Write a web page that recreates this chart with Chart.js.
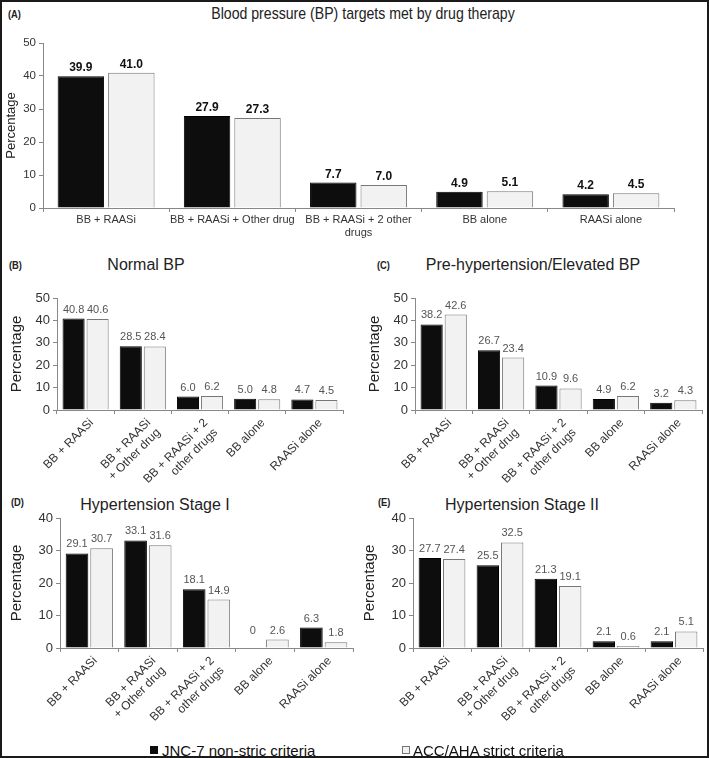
<!DOCTYPE html>
<html>
<head>
<meta charset="utf-8">
<script src="https://cdn.jsdelivr.net/npm/chart.js@4.4.1/dist/chart.umd.min.js"></script>
<style>
  body { margin: 0; background: #fff; }
  #page { position: relative; width: 709px; height: 758px; overflow: hidden; background: #fff; font-family: "Liberation Sans", Arial, sans-serif; }
  #frame { position: absolute; left: 0; top: 0; width: 709px; height: 758px; border: 2px solid #1a1a1a; box-sizing: border-box; pointer-events: none; z-index: 10; }
  canvas { position: absolute; }
  .txt { position: absolute; white-space: nowrap; transform: translate(-50%, -50%); color: #222; }
  .tag { position: absolute; white-space: nowrap; transform: translateY(-50%) scaleX(0.85); transform-origin: left center; font-weight: bold; font-size: 11px; color: #222; }
  .leg { position: absolute; white-space: nowrap; transform: translateY(-50%); font-size: 15px; color: #111; }
  .sq { position: absolute; box-sizing: border-box; }
</style>
</head>
<body>
<div id="page">
  <div class="tag" style="left:8px; top:14px;">(A)</div>
  <div class="txt" style="left:363px; top:14px; font-size:17px; transform: translate(-50%, -50%) scaleX(0.83);">Blood pressure (BP) targets met by drug therapy</div>
  <div class="tag" style="left:9px; top:265px;">(B)</div>
  <div class="txt" style="left:146px; top:265px; font-size:16px;">Normal BP</div>
  <div class="tag" style="left:377px; top:265px;">(C)</div>
  <div class="txt" style="left:533px; top:265px; font-size:16px;">Pre-hypertension/Elevated BP</div>
  <div class="tag" style="left:11px; top:502px;">(D)</div>
  <div class="txt" style="left:155px; top:505px; font-size:16px;">Hypertension Stage I</div>
  <div class="tag" style="left:378px; top:502px;">(E)</div>
  <div class="txt" style="left:522px; top:505px; font-size:16px;">Hypertension Stage II</div>

  <canvas id="chartA" width="680" height="218" style="left:0px; top:30px;"></canvas>
  <canvas id="chartB" width="348" height="209" style="left:0px; top:285px;"></canvas>
  <canvas id="chartC" width="349" height="209" style="left:358px; top:285px;"></canvas>
  <canvas id="chartD" width="358" height="221" style="left:0px; top:505px;"></canvas>
  <canvas id="chartE" width="354" height="221" style="left:353px; top:505px;"></canvas>

  <div class="sq" style="left:150px; top:746px; width:8px; height:8px; background:#0d0d0d;"></div>
  <div class="leg" style="left:162px; top:750px;">JNC-7 non-stric criteria</div>
  <div class="sq" style="left:402px; top:746px; width:8px; height:8px; background:#f2f2f2; border:1px solid #777;"></div>
  <div class="leg" style="left:413px; top:750px;">ACC/AHA strict criteria</div>
  <div id="frame"></div>
</div>
<script>
// categories
var categories = ['BB + RAASi', 'BB + RAASi + Other drug', 'BB + RAASi + 2 other drugs', 'BB alone', 'RAASi alone']
var labelsWide = [['BB + RAASi'], ['BB + RAASi + Other drug'], ['BB + RAASi + 2 other', 'drugs'], ['BB alone'], ['RAASi alone']]
var labelsTilted = [['BB + RAASi'], ['BB + RAASi', '+ Other drug'], ['BB + RAASi + 2', 'other drugs'], ['BB alone'], ['RAASi alone']]
var seriesNames = ['JNC-7 non-stric criteria', 'ACC/AHA strict criteria']

// (A) all patients
var allJnc = [39.9, 27.9, 7.7, 4.9, 4.2]
var allAcc = [41.0, 27.3, 7.0, 5.1, 4.5]
// (B) normal BP
var normalJnc = [40.8, 28.5, 6.0, 5.0, 4.7]
var normalAcc = [40.6, 28.4, 6.2, 4.8, 4.5]
// (C) pre-hypertension / elevated
var preJnc = [38.2, 26.7, 10.9, 4.9, 3.2]
var preAcc = [42.6, 23.4, 9.6, 6.2, 4.3]
// (D) stage I
var stage1Jnc = [29.1, 33.1, 18.1, 0, 6.3]
var stage1Acc = [30.7, 31.6, 14.9, 2.6, 1.8]
// (E) stage II
var stage2Jnc = [27.7, 25.5, 21.3, 2.1, 2.1]
var stage2Acc = [27.4, 32.5, 19.1, 0.6, 5.1]

// y ticks
var ticks50 = [0, 10, 20, 30, 40, 50]
var ticks40 = [0, 10, 20, 30, 40]

var regular = "'Liberation Sans', Arial, sans-serif"

Chart.defaults.font.family = regular
Chart.defaults.color = '#333'

// draws the number over every bar
function valueLabels(font, color, offset, fmt) {
    return {
        id: 'valueLabels',
        afterDatasetsDraw(chart) {
            var ctx = chart.ctx
            ctx.save()
            ctx.font = font
            ctx.fillStyle = color
            ctx.textAlign = 'center'
            ctx.textBaseline = 'alphabetic'
            chart.data.datasets.forEach(function (ds, i) {
                chart.getDatasetMeta(i).data.forEach(function (bar, j) {
                    // a zero bar gets its label lifted a bit, like the original
                    var lift = ds.data[j] === 0 ? offset + 8 : offset
                    ctx.fillText(fmt(ds.data[j]), bar.x, bar.y - lift)
                })
            })
            ctx.restore()
        }
    }
}

function makeChart(id, labels, jnc, acc, o) {
    var yTicks = o.yTicks
    return new Chart(document.getElementById(id), {
        type: 'bar',
        data: {
            labels: labels,
            datasets: [
                { label: seriesNames[0], data: jnc, backgroundColor: '#0d0d0d', borderColor: '#000', borderWidth: 1 },
                { label: seriesNames[1], data: acc, backgroundColor: '#f2f2f2', borderColor: '#777', borderWidth: 1 }
            ]
        },
        options: {
            responsive: false,
            devicePixelRatio: 1,
            animation: false,
            categoryPercentage: o.cat,
            barPercentage: o.bar,
            layout: { padding: { top: 13, right: o.right, left: 0, bottom: 0 } },
            plugins: { legend: { display: false }, title: { display: false }, tooltip: { enabled: false } },
            scales: {
                x: {
                    grid: { display: true, drawOnChartArea: false, drawTicks: true, tickLength: 4, color: '#888', offset: true },
                    border: { display: true, color: '#888' },
                    ticks: {
                        autoSkip: false,
                        maxRotation: o.rot, minRotation: o.rot,
                        padding: 2,
                        labelOffset: o.labelShift,
                        color: '#333',
                        font: { size: o.catSize, lineHeight: 1.15 }
                    },
                    afterFit: function (s) { s.height = o.xh }
                },
                y: {
                    min: 0, max: yTicks[yTicks.length - 1],
                    afterBuildTicks: function (s) { s.ticks = yTicks.map(function (v) { return { value: v } }) },
                    grid: { display: true, drawOnChartArea: false, drawTicks: true, tickLength: 4, color: '#888' },
                    border: { display: true, color: '#888' },
                    ticks: { padding: 3, color: '#333', font: { size: o.tickSize } },
                    title: { display: true, text: 'Percentage', color: '#222', padding: { top: o.titlePad, bottom: 0 }, font: { size: o.titleSize } },
                    afterFit: function (s) { s.width = o.yw }
                }
            }
        },
        plugins: [o.labels]
    })
}

var fmtA = function (v) { return v.toFixed(1) }
var fmtSub = function (v) { return v === 0 ? '0' : v.toFixed(1) }

var optsA = {
    yTicks: ticks50, cat: 0.8, bar: 0.92, right: 6, rot: 0, xh: 40, yw: 43, labelShift: 0,
    catSize: 11, tickSize: 11.5, titleSize: 13, titlePad: 4,
    labels: valueLabels('bold 12px ' + regular, '#111', 5, fmtA)
}
makeChart('chartA', labelsWide, allJnc, allAcc, optsA)

function subOpts(yTicks, xh, yw, right) {
    return {
        yTicks: yTicks, cat: 0.84, bar: 0.92, right: right, rot: 45, xh: xh, yw: yw, labelShift: 6,
        catSize: 12, tickSize: 13, titleSize: 15, titlePad: 8,
        labels: valueLabels('11px ' + regular, '#555', 6, fmtSub)
    }
}
makeChart('chartB', labelsTilted, normalJnc, normalAcc, subOpts(ticks50, 84, 57, 5))
makeChart('chartC', labelsTilted, preJnc, preAcc, subOpts(ticks50, 84, 57, 5))
makeChart('chartD', labelsTilted, stage1Jnc, stage1Acc, subOpts(ticks40, 78, 60, 5))
makeChart('chartE', labelsTilted, stage2Jnc, stage2Acc, subOpts(ticks40, 78, 60, 4))
</script>
</body>
</html>
